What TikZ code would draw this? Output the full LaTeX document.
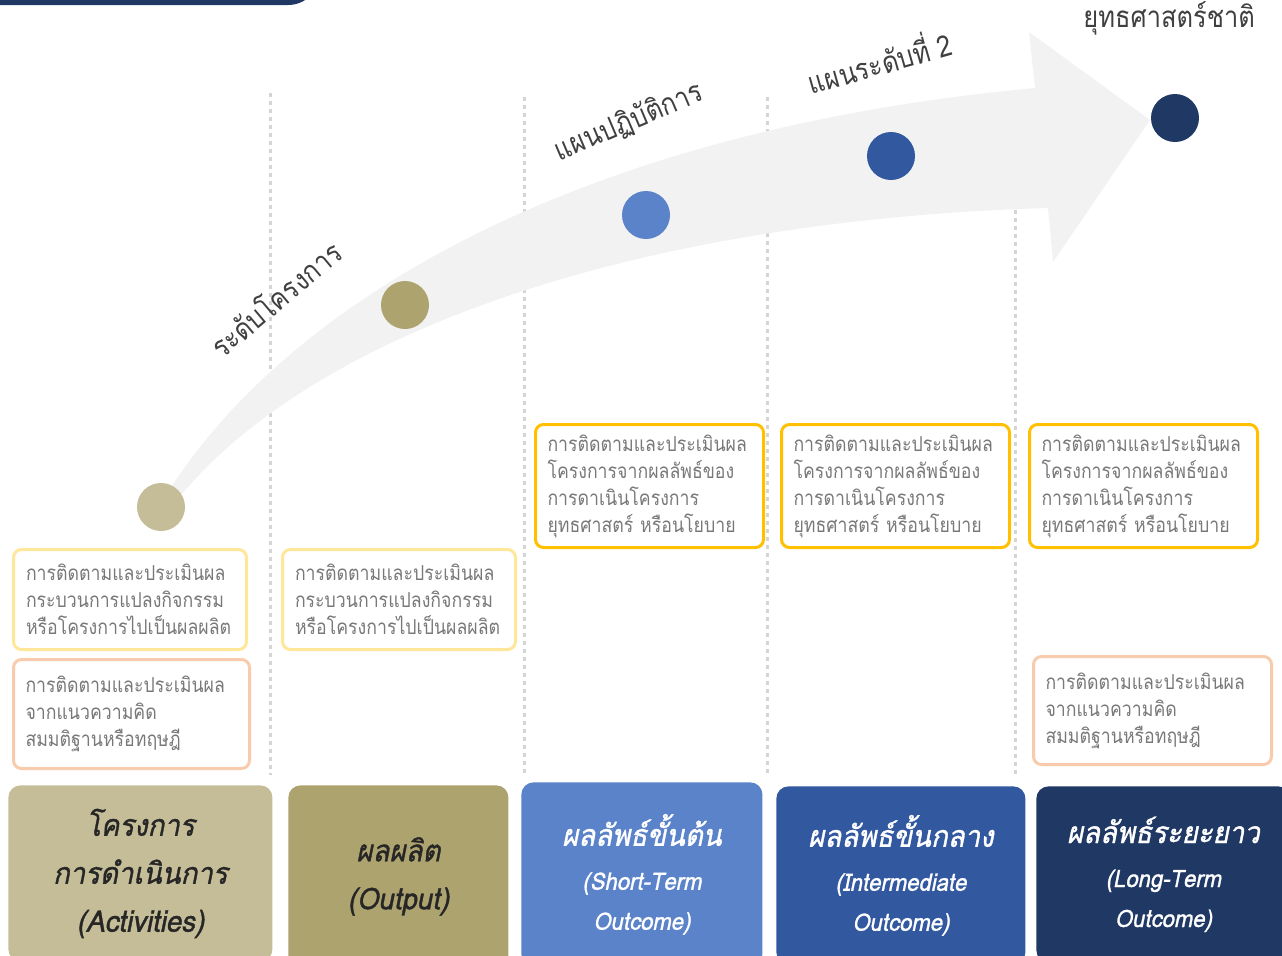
\documentclass[tikz,border=0pt]{standalone}
\usepackage{fontspec}
\newfontfamily\thai[Script=Thai,FakeStretch=0.86]{Loma}
\newfontfamily\thaisl[Script=Thai,FakeSlant=0.2,FakeBold=1.2,FakeStretch=0.92]{Loma}
\usetikzlibrary{positioning}
\definecolor{navy}{RGB}{32,56,100}
\definecolor{midblue}{RGB}{50,88,160}
\definecolor{lightblue}{RGB}{91,131,202}
\definecolor{olive}{RGB}{173,163,111}
\definecolor{khaki}{RGB}{196,189,151}
\definecolor{gold}{RGB}{255,192,0}
\definecolor{paleyellow}{RGB}{255,230,153}
\definecolor{peach}{RGB}{248,203,173}
\definecolor{arrowgray}{RGB}{242,242,242}
\definecolor{dashgray}{RGB}{212,212,212}
\definecolor{textgray}{RGB}{120,120,120}
\definecolor{labelgray}{RGB}{64,64,64}

\begin{document}
\begin{tikzpicture}[x=0.5pt, y=-0.5pt,
    evalbox/.style = {draw, line width=1.5pt, rounded corners=4pt,
      anchor=north west, align=left, text=textgray, inner xsep=6pt,
      font=\thai\fontsize{10.3}{13.5}\selectfont},
    tile/.style = {rounded corners=6pt, anchor=north west, align=center,
      inner sep=0pt, font=\thaisl\fontsize{15}{24}\selectfont},
    outcome/.style = {tile, text=white, font=\thaisl\fontsize{12}{20}\selectfont},
    dot/.style = {circle, minimum size=24pt, inner sep=0pt},
    stage/.style = {text=labelgray, font=\thai\fontsize{14.8}{16}\selectfont},
    guide/.style = {dashgray, line width=1.5pt, dash pattern=on 2pt off 2pt}]
  \clip (0,0) rectangle (1282,955);
  % header bar
  \fill[navy, rounded corners=16pt] (-40,-60) rectangle (320,5);
  % column guides
  \draw[guide] (270,93) -- (270,775);
  \draw[guide] (524,97) -- (524,775);
  \draw[guide] (767,97) -- (767,775);
  \draw[guide] (1015,210) -- (1015,775);
  % big arrow
  \fill[arrowgray] (168,492) .. controls (290,300) and (580,130) .. (1035,88)
    -- (1029,32) -- (1150,120) -- (1053,262) -- (1048,208)
    .. controls (640,220) and (320,330) .. (182,494) -- cycle;
  % milestones
  \node[dot, fill=khaki] (actdot) at (161,507) {};
  \node[dot, fill=olive] (outdot) at (405,305) {};
  \node[dot, fill=lightblue] (shortdot) at (646,215) {};
  \node[dot, fill=midblue] (middot) at (891,156) {};
  \node[dot, fill=navy] (longdot) at (1175,118) {};
  \node[stage, rotate=40] (projlevel) at (275,298) {ระดับโครงการ};
  \node[stage, rotate=23] (actplan) at (629,122) {แผนปฏิบัติการ};
  \node[stage, rotate=16] (plan2) at (879,60) {แผนระดับที่ 2};
  \node[stage, anchor=east] (national) at (1262,18) {ยุทธศาสตร์ชาติ};
  % evaluation boxes
  \node[evalbox, draw=paleyellow, minimum width=116.5pt, minimum height=50pt,
    text width=104pt] (actcheck) at (12,548)
    {การติดตามและประเมินผล\\กระบวนการแปลงกิจกรรม\\หรือโครงการไปเป็นผลผลิต};
  \node[evalbox, draw=paleyellow, minimum width=116.5pt, minimum height=50pt,
    text width=104pt] (outcheck) at (281,548)
    {การติดตามและประเมินผล\\กระบวนการแปลงกิจกรรม\\หรือโครงการไปเป็นผลผลิต};
  \node[evalbox, draw=peach, minimum width=118pt, minimum height=54.5pt,
    text width=106pt] (theoryleft) at (12,658)
    {การติดตามและประเมินผล\\จากแนวความคิด\\สมมติฐานหรือทฤษฎี};
  \node[evalbox, draw=peach, minimum width=119pt, minimum height=54pt,
    text width=107pt] (theoryright) at (1032,655)
    {การติดตามและประเมินผล\\จากแนวความคิด\\สมมติฐานหรือทฤษฎี};
  \node[evalbox, draw=gold, minimum width=113pt, minimum height=61.5pt,
    text width=102pt] (shortcheck) at (534,423)
    {การติดตามและประเมินผล\\โครงการจากผลลัพธ์ของ\\การดาเนินโครงการ\\ยุทธศาสตร์ หรือนโยบาย};
  \node[evalbox, draw=gold, minimum width=113pt, minimum height=61.5pt,
    text width=102pt] (midcheck) at (780,423)
    {การติดตามและประเมินผล\\โครงการจากผลลัพธ์ของ\\การดาเนินโครงการ\\ยุทธศาสตร์ หรือนโยบาย};
  \node[evalbox, draw=gold, minimum width=113pt, minimum height=61.5pt,
    text width=102pt] (longcheck) at (1028,423)
    {การติดตามและประเมินผล\\โครงการจากผลลัพธ์ของ\\การดาเนินโครงการ\\ยุทธศาสตร์ หรือนโยบาย};
  % result tiles
  \node[tile, fill=khaki, text=black!85, minimum width=132pt, minimum height=88pt]
    (activities) at (8,785) {โครงการ\\การดำเนินการ\\(Activities)};
  \node[tile, fill=olive, text=black!85, minimum width=110pt, minimum height=91pt]
    (output) at (288,785) {ผลผลิต\\(Output)};
  \node[outcome, fill=lightblue, minimum width=120.5pt, minimum height=92pt]
    (shortterm) at (521,782) {{\fontsize{15}{20}\selectfont ผลลัพธ์ขั้นต้น}\\[2pt](Short-Term\\Outcome)};
  \node[outcome, fill=midblue, minimum width=124.5pt, minimum height=89pt]
    (midterm) at (776,786) {{\fontsize{15}{20}\selectfont ผลลัพธ์ขั้นกลาง}\\[2pt](Intermediate\\Outcome)};
  \node[outcome, fill=navy, minimum width=127pt, minimum height=88pt]
    (longterm) at (1036,786) {{\fontsize{15}{20}\selectfont ผลลัพธ์ระยะยาว}\\[2pt](Long-Term\\Outcome)};
\end{tikzpicture}
\end{document}
